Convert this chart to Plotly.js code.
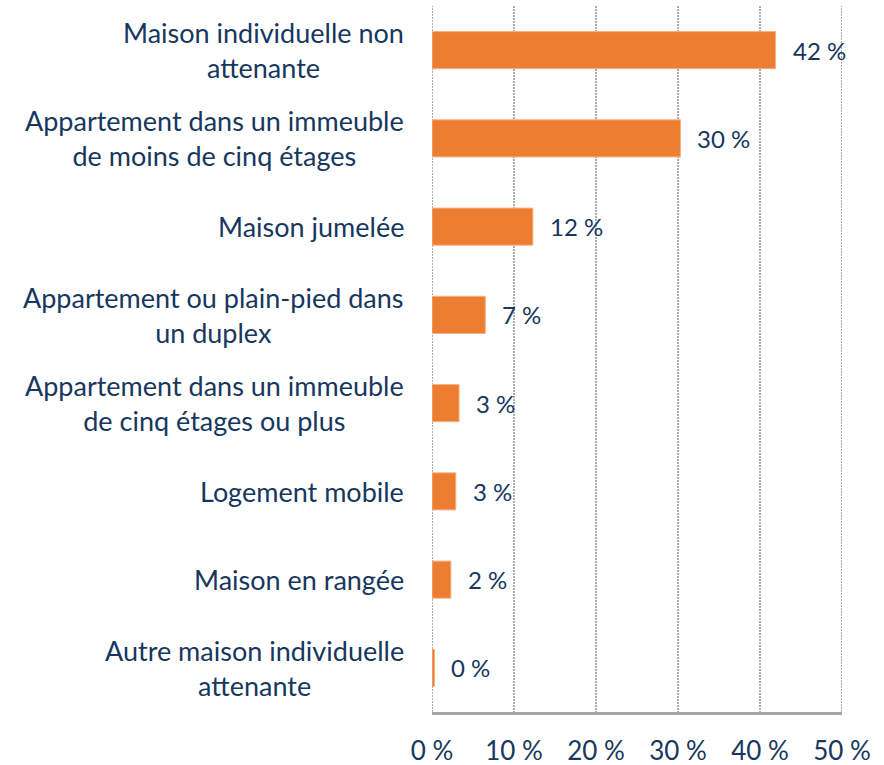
<!DOCTYPE html>
<html>
<head>
<meta charset="utf-8">
<script src="https://cdn.plot.ly/plotly-3.0.1.min.js"></script>
<style>html,body{margin:0;padding:0;background:#fff;}#chart{width:884px;height:765px;}</style>
</head>
<body>
<div id="chart"></div>
<script>
const categories = [
  "Maison individuelle non<br>attenante",
  "Appartement dans un immeuble<br>de moins de cinq étages",
  "Maison jumelée",
  "Appartement ou plain-pied dans<br>un duplex",
  "Appartement dans un immeuble<br>de cinq étages ou plus",
  "Logement mobile",
  "Maison en rangée",
  "Autre maison individuelle<br>attenante"
];
const values = [41.9, 30.3, 12.3, 6.5, 3.3, 2.9, 2.3, 0.3];
const valueLabels = ["42 %", "30 %", "12 %", "7 %", "3 %", "3 %", "2 %", "0 %"];
const tickVals = [0, 10, 20, 30, 40, 50];

const textColor = "#17375E";
const fontFamily = "Lato, 'Open Sans', sans-serif";
const gridStyle = {color: "#ABABAB", width: 2, dash: "2px,1px"};

const trace = {
  type: "bar",
  orientation: "h",
  x: values,
  y: categories,
  marker: {color: "#ED7D31", line: {color: "#F4B183", width: 1}},
  hoverinfo: "skip"
};

const valueAnnotations = values.map((v, i) => ({
  x: v, y: categories[i], xref: "x", yref: "y",
  text: valueLabels[i], showarrow: false,
  xanchor: "left", xshift: 15,
  font: {family: fontFamily, size: 24, color: textColor}
}));

const categoryAnnotations = categories.map((c) => ({
  x: 0, y: c, xref: "paper", yref: "y",
  text: c, showarrow: false,
  xanchor: "right", xshift: -26, align: "center",
  font: {family: fontFamily, size: 27, color: textColor}
}));

// edge gridlines (Plotly omits grid lines on the plot boundary)
const edgeGrid = [tickVals[0], tickVals[tickVals.length - 1]].map(v => ({
  type: "line", xref: "x", yref: "paper", x0: v, x1: v, y0: 0, y1: 1,
  line: gridStyle, layer: "below"
}));

const layout = {
  width: 884, height: 765,
  margin: {l: 432, r: 42, t: 6, b: 53, pad: 0},
  paper_bgcolor: "#fff", plot_bgcolor: "#fff",
  showlegend: false,
  bargap: 0.58,
  font: {family: fontFamily, size: 24, color: textColor},
  xaxis: {
    range: [0, 50],
    tickvals: tickVals,
    ticktext: tickVals.map(v => v + " %"),
    showgrid: true, gridcolor: gridStyle.color, gridwidth: gridStyle.width, griddash: gridStyle.dash,
    zeroline: false,
    showline: true, linecolor: "#A6A6A6", linewidth: 2.5,
    ticks: "", ticklabelstandoff: 14,
    tickfont: {family: fontFamily, size: 26, color: textColor},
    fixedrange: true
  },
  yaxis: {
    autorange: "reversed",
    showgrid: false, zeroline: false, showline: false,
    showticklabels: false, ticks: "",
    fixedrange: true
  },
  shapes: edgeGrid,
  annotations: valueAnnotations.concat(categoryAnnotations)
};

Plotly.newPlot("chart", [trace], layout, {displayModeBar: false, staticPlot: true});
</script>
</body>
</html>
